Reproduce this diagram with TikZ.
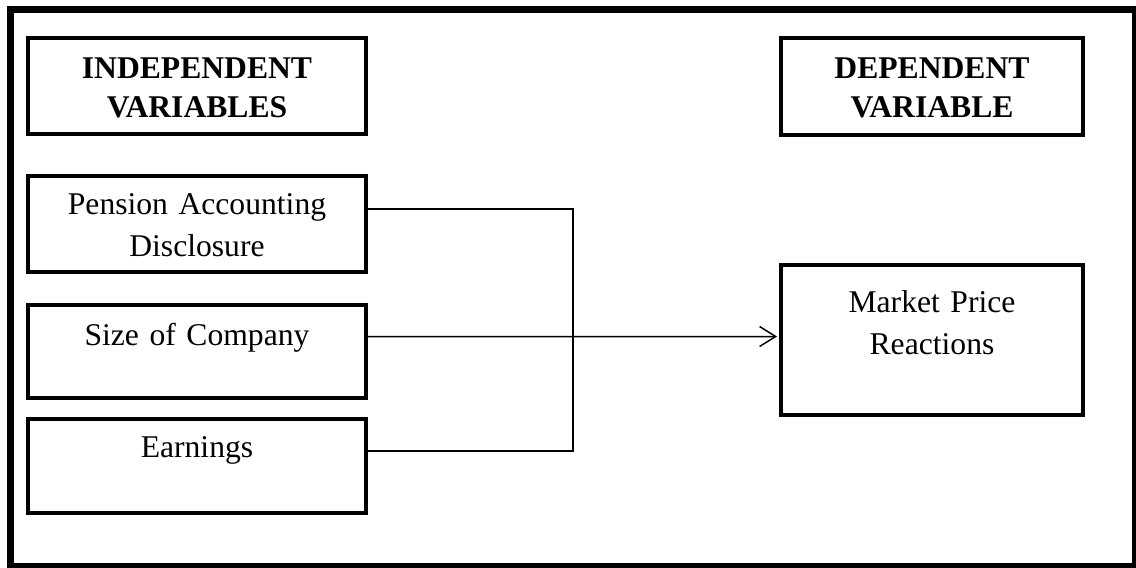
\documentclass[tikz,border=0pt]{standalone}
\usepackage{fontspec}
\setmainfont{Liberation Serif}
\usepackage{tikz}
\usetikzlibrary{positioning,calc}
\usetikzlibrary{arrows.meta}
\tikzstyle{outerframe} = [line width=0.16cm]
\tikzstyle{headbox} = [rectangle, draw=black, line width=0.08cm, inner sep=0pt, align=center,
font=\fontsize{18}{22.1}\selectfont\bfseries]
\tikzstyle{varbox} = [rectangle, draw=black, line width=0.08cm, inner sep=0pt, align=center,
font=\fontsize{18}{24.4}\selectfont]
\tikzstyle{link} = [line width=0.03cm]
\tikzstyle{arrow} = [line width=0.03cm,-{Straight Barb[length=0.32cm,width=0.4cm,line width=0.03cm]}]

\begin{document}
\begin{tikzpicture}[x=0.02cm,y=-0.02cm]
\useasboundingbox (0,0) rectangle (1136,568);
\draw[outerframe] (10.5,9.5) rectangle (1136,567);
% headings
\node (h1) at (197,86) [headbox,text width=6.76cm,text height=0.81cm,text depth=1.11cm] {INDEPENDENT\\VARIABLES};
\node (h2) at (932,86.5) [headbox,text width=6.04cm,text height=0.81cm,text depth=1.13cm] {DEPENDENT\\VARIABLE};
% independent variables
\node (v1) at (197,224) [varbox,text width=6.76cm,text height=0.76cm,text depth=1.16cm] {Pension Accounting\\Disclosure};
\node (v2) at (197,351.5) [varbox,text width=6.76cm,text height=0.80cm,text depth=1.06cm] {Size of Company};
\node (v3) at (197,466) [varbox,text width=6.76cm,text height=0.76cm,text depth=1.12cm] {Earnings};
% dependent variable
\node (d) at (932,340) [varbox,text width=6.04cm,text height=0.94cm,text depth=2.06cm] {Market Price\\Reactions};
\coordinate (j) at (573,336.5);
\draw[link] ([yshift=0.3cm]v1.east) -| (j) |- ([yshift=0.3cm]v3.east);
\draw[arrow,shorten >=0.04cm] ([yshift=0.3cm]v2.east) -- (d.west |- j);
\end{tikzpicture}
\end{document}
